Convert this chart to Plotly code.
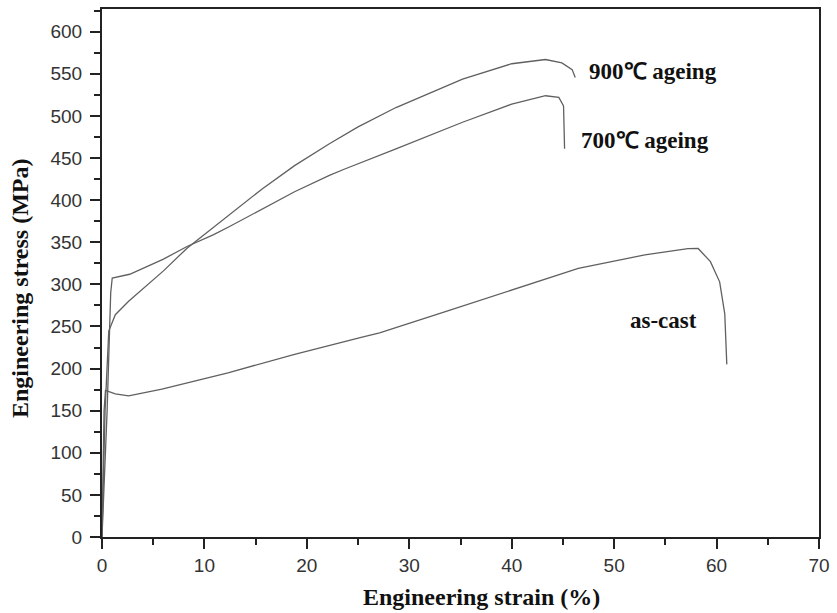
import plotly.graph_objects as go

# Engineering strain (%) / stress (MPa)
ascast_x = [0, 0.2, 0.34, 1.3, 2.6, 5.85, 12.3, 18.8, 25.3, 27.1, 33.6, 40.0, 46.5, 53.0, 57.2, 58.2, 59.4, 60.3, 60.8, 61.0]
ascast_y = [0, 150, 174, 170, 167.5, 175.5, 195, 217, 237, 242.5, 268, 293.7, 319, 335, 342.5, 342.6, 327, 303, 265, 205]

a700_x = [0, 0.5, 0.85, 1.0, 2.7, 6.0, 8.3, 10.9, 12.5, 18.8, 22.2, 23.7, 28.7, 35.2, 40.0, 43.3, 44.6, 45.06, 45.16]
a700_y = [0, 150, 290, 307.5, 312, 330, 345, 359, 369, 410, 429.5, 437, 461, 492.5, 514, 524, 522, 512, 461]

a900_x = [0, 0.3, 0.66, 1.3, 2.6, 4.4, 6.0, 8.3, 10.9, 12.5, 15.6, 18.8, 22.2, 25.0, 28.7, 35.2, 40.0, 43.3, 44.9, 45.9, 46.2]
a900_y = [0, 150, 244.5, 264, 280, 299, 316, 343, 368, 384, 413, 441, 467, 487, 510, 543.6, 562, 567, 563, 555, 545.6]

labels = ["900℃ ageing", "700℃ ageing", "as-cast"]
label_x = [53.8, 53.0, 54.8]
label_y = [553, 471, 257]

x_title = "Engineering strain (%)"
y_title = "Engineering stress (MPa)"

x_ticks = [0, 10, 20, 30, 40, 50, 60, 70]
y_ticks = list(range(0, 601, 50))

line_style = dict(color="#606060", width=1.3)

fig = go.Figure()
for xs, ys, name in [(ascast_x, ascast_y, "as-cast"), (a700_x, a700_y, "700"), (a900_x, a900_y, "900")]:
    fig.add_trace(go.Scatter(x=xs, y=ys, mode="lines", line=line_style, name=name, showlegend=False))

for t, lx, ly in zip(labels, label_x, label_y):
    fig.add_annotation(x=lx, y=ly, text=t, showarrow=False,
                       font=dict(family="Liberation Serif", size=23, color="#111", weight="bold"))

tickfont = dict(family="Liberation Sans", size=19, color="#333")
titlefont = dict(family="Liberation Serif", size=24, color="#111", weight="bold")

fig.add_annotation(xref="paper", yref="paper", x=0.529, y=-0.113, text=x_title,
                   showarrow=False, font=titlefont, xanchor="center", yanchor="middle")
fig.add_annotation(xref="paper", yref="paper", x=-0.114, y=0.472, text=y_title, textangle=-90,
                   showarrow=False, font=titlefont, xanchor="center", yanchor="middle")

fig.update_xaxes(range=[0, 70], tickvals=x_ticks, ticks="outside", ticklen=10, tickwidth=1.5,
                 tickcolor="#222", showline=True, linecolor="#222", linewidth=2, mirror=True,
                 showgrid=False, zeroline=False, tickfont=tickfont,
                 minor=dict(dtick=5, ticks="outside", ticklen=6, tickwidth=1.5, tickcolor="#222"))
fig.update_yaxes(range=[0, 627], tickvals=y_ticks, ticks="outside", ticklen=10, tickwidth=1.5,
                 tickcolor="#222", showline=True, linecolor="#222", linewidth=2, mirror=True,
                 showgrid=False, zeroline=False, tickfont=tickfont, ticklabelstandoff=4,
                 minor=dict(dtick=25, ticks="outside", ticklen=6, tickwidth=1.5, tickcolor="#222"))

fig.update_layout(width=837, height=613, margin=dict(l=102, r=15, t=7, b=76),
                  plot_bgcolor="white", paper_bgcolor="white")

fig.write_html("out.html")
